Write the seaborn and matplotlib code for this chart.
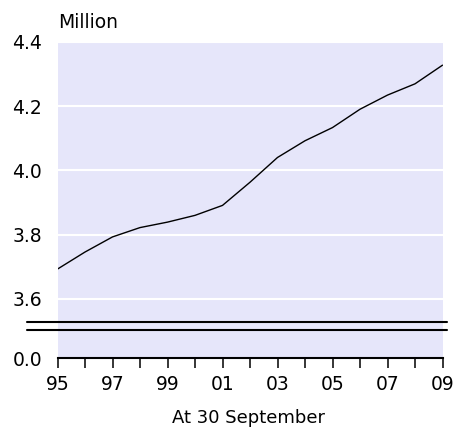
import matplotlib
matplotlib.use("Agg")
import matplotlib.pyplot as plt
from matplotlib.lines import Line2D
import seaborn as sns
import pandas as pd

# Data (millions, at 30 September)
years = list(range(1995, 2010))
values = [3.693, 3.746, 3.793, 3.822, 3.839, 3.860, 3.891, 3.963,
          4.040, 4.092, 4.133, 4.190, 4.234, 4.269, 4.327]
tick_labels = ["95", "", "97", "", "99", "", "01", "", "03", "",
               "05", "", "07", "", "09"]

df = pd.DataFrame({"year": years, "value": values})

sns.set_style("white", {"axes.facecolor": "#e6e6fa"})
plt.rcParams["font.family"] = ["DejaVu Sans"]
plt.rcParams["text.color"] = "black"
plt.rcParams["xtick.labelcolor"] = "black"
plt.rcParams["ytick.labelcolor"] = "black"
fs = 13.5

W, H = 453, 428
fig = plt.figure(figsize=(W / 100, H / 100), dpi=100)

def px(x0, y0, x1, y1):
    # pixel box -> figure fraction [left, bottom, width, height]
    return [x0 / W, 1 - y1 / H, (x1 - x0) / W, (y1 - y0) / H]

ax = fig.add_axes(px(57.5, 41.7, 442.5, 326))
axb = fig.add_axes(px(57.5, 326, 442.5, 358), sharex=ax)

sns.lineplot(data=df, x="year", y="value", ax=ax, color="black", linewidth=1)

ax.set_xlim(1995, 2009)
ax.set_ylim(3.516, 4.4)
ax.set_yticks([3.6, 3.8, 4.0, 4.2, 4.4])
ax.set_yticklabels(["3.6", "3.8", "4.0", "4.2", "4.4"])
ax.grid(axis="y", color="white", linewidth=1.5)
ax.set_axisbelow(True)
for s in ax.spines.values():
    s.set_visible(False)
ax.tick_params(axis="y", length=0, pad=11, labelsize=fs)
ax.tick_params(axis="x", length=0, labelbottom=False)
ax.set_xlabel("")
ax.set_ylabel("")

axb.set_ylim(0, 1)
axb.set_yticks([0])
axb.set_yticklabels(["0.0"])
axb.set_xticks(years)
axb.set_xticklabels(tick_labels)
for k, s in axb.spines.items():
    s.set_visible(k == "bottom")
axb.spines["bottom"].set_color("black")
axb.spines["bottom"].set_linewidth(1.5)
axb.tick_params(axis="y", length=0, pad=11, labelsize=fs)
axb.tick_params(axis="x", direction="out", length=7.5, width=1.1,
                color="black", pad=5, labelsize=fs, bottom=True)
axb.set_xlabel("")

# axis break marks
for yy in (321.5, 330):
    fig.add_artist(Line2D([27 / W, 447 / W], [1 - yy / H, 1 - yy / H],
                          color="black", linewidth=1.5, zorder=10))

fig.text(58 / W, 1 - 28.5 / H, "Million", fontsize=13.5, va="baseline")
fig.text(248 / W, 1 - 423 / H, "At 30 September", fontsize=13,
         ha="center", va="baseline")

fig.savefig("out.png", dpi=100)
